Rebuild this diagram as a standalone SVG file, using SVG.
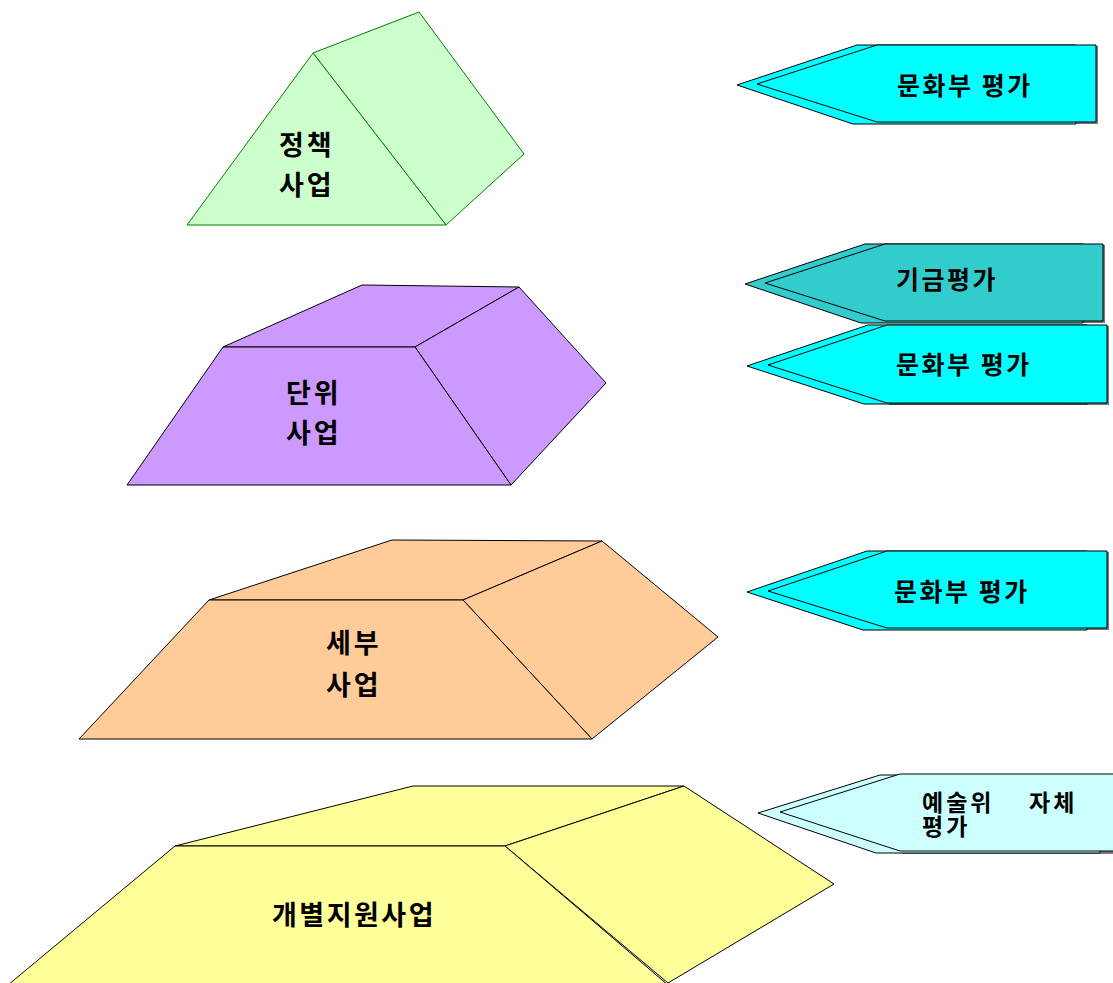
<svg xmlns="http://www.w3.org/2000/svg" width="1113" height="983" viewBox="0 0 1113 983">
<style>
.lbl{font-family:"Noto Sans CJK KR","Noto Sans",sans-serif;font-weight:bold;font-size:27px;fill:#000;letter-spacing:3px}
.big{font-family:"Noto Sans CJK KR","Noto Sans",sans-serif;font-weight:bold;font-size:27px;fill:#000;letter-spacing:2.5px}
.alb{font-family:"Noto Sans CJK KR","Noto Sans",sans-serif;font-weight:bold;font-size:25px;fill:#000;letter-spacing:2.5px}
.alb2{font-family:"Noto Sans CJK KR","Noto Sans",sans-serif;font-weight:bold;font-size:23px;fill:#000;letter-spacing:3px}
.edge{stroke:#000;stroke-width:1;stroke-linejoin:round}
.shadow{fill:#777}
</style>
<rect width="1113" height="983" fill="#fff"/>

<g id="policy">
<polygon points="313,53 419,12 524,154 446,225" fill="#CCFFCC" stroke="#008000" stroke-width="1"/>
<polygon points="187,225 313,53 446,225" fill="#CCFFCC" stroke="#008000" stroke-width="1"/>
<text class="lbl" x="279" y="155">정책</text>
<text class="lbl" x="279" y="195">사업</text>
</g>

<g id="unit">
<polygon class="edge" points="223,347 362,285 519,287 415,347" fill="#CC99FF"/>
<polygon class="edge" points="519,287 606,383 511,485 415,347" fill="#CC99FF"/>
<polygon class="edge" points="127,485 223,347 415,347 511,485" fill="#CC99FF"/>
<text class="lbl" x="286" y="403">단위</text>
<text class="lbl" x="286" y="443">사업</text>
</g>

<g id="detail">
<polygon class="edge" points="209,600 392,540 602,541 463,600" fill="#FFCC99"/>
<polygon class="edge" points="602,541 718,637 592,739 463,600" fill="#FFCC99"/>
<polygon class="edge" points="79,739 209,600 463,600 592,739" fill="#FFCC99"/>
<text class="lbl" x="326" y="653">세부</text>
<text class="lbl" x="326" y="695">사업</text>
</g>

<g id="individual">
<polygon class="edge" points="175,846 413,786 684,786 505,846" fill="#FFFF99"/>
<polygon class="edge" points="684,786 834,884 668,983 505,846" fill="#FFFF99"/>
<polygon class="edge" points="8,985 175,846 505,846 668,985" fill="#FFFF99"/>
<text class="big" x="272" y="925">개별지원사업</text>
</g>

<g id="eval1">
<polygon class="shadow" points="879,46 1098,46 1098,124 879,124"/>
<polygon class="edge" points="737,85 857,45 1076,45 1076,124 853,124" fill="#00FFFF"/>
<polygon class="edge" points="757,84 877,45 1096,45 1096,122 877,122" fill="#00FFFF"/>
<text class="alb" x="897" y="95">문화부 평가</text>
</g>

<g id="eval2">
<polygon class="shadow" points="887,245 1105,245 1105,323 887,323"/>
<polygon class="edge" points="745,284 865,244 1083,244 1083,323 861,323" fill="#33CCCC"/>
<polygon class="edge" points="765,283 885,244 1103,244 1103,321 885,321" fill="#33CCCC"/>
<text class="alb" x="896" y="289">기금평가</text>
</g>

<g id="eval3">
<polygon class="shadow" points="889,326 1109,326 1109,405 889,405"/>
<polygon class="edge" points="747,366 868,325 1087,325 1087,404 864,404" fill="#00FFFF"/>
<polygon class="edge" points="768,365 887,325 1107,325 1107,403 887,403" fill="#00FFFF"/>
<text class="alb" x="896" y="374">문화부 평가</text>
</g>

<g id="eval4">
<polygon class="shadow" points="889,552 1109,552 1109,630 889,630"/>
<polygon class="edge" points="747,592 867,551 1087,551 1087,630 863,630" fill="#00FFFF"/>
<polygon class="edge" points="768,591 887,551 1107,551 1107,628 887,628" fill="#00FFFF"/>
<text class="alb" x="894" y="601">문화부 평가</text>
</g>

<g id="eval5">
<polygon class="shadow" points="902,776 1115,776 1115,854 902,854"/>
<polygon class="edge" points="758,813 880,775 1100,775 1100,853 876,853" fill="#CCFFFF"/>
<polygon class="edge" points="780,812 900,774 1116,774 1116,851 900,851" fill="#CCFFFF"/>
<text class="alb2" x="922" y="811">예술위<tspan x="1029">자체</tspan></text>
<text class="alb2" x="922" y="835">평가</text>
</g>
</svg>
